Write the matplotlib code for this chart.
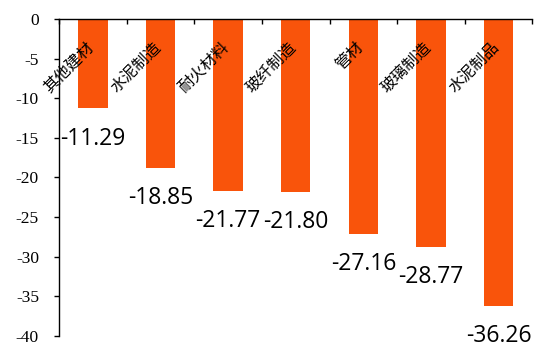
import matplotlib
matplotlib.use("Agg")
import matplotlib.pyplot as plt
import numpy as np

plt.rcParams['axes.unicode_minus'] = False

# data
categories = ['其他建材', '水泥制造', '耐火材料', '玻纤制造', '管材', '玻璃制造', '水泥制品']
values = [-11.29, -18.85, -21.77, -21.80, -27.16, -28.77, -36.26]
y_ticks = [0, -5, -10, -15, -20, -25, -30, -35, -40]

bar_color = '#F9540B'

fig = plt.figure(figsize=(5.38, 3.47), dpi=100)
ax = fig.add_axes([0.110, 0.0326, 0.8794, 0.9126])

x = np.arange(len(categories))
ax.bar(x, values, width=0.434, color=bar_color, zorder=2)

ax.set_xlim(-0.5, len(categories) - 0.5)
ax.set_ylim(-40, 0)

# x axis sits on the top spine (y = 0), ticks point into the plot
ax.spines['bottom'].set_visible(False)
ax.spines['right'].set_visible(False)
ax.spines['top'].set_linewidth(1.0)
ax.spines['left'].set_linewidth(1.0)
ax.xaxis.set_ticks_position('top')
ax.set_xticks(np.arange(len(categories) + 1) - 0.5)
ax.set_xticklabels([])
ax.tick_params(axis='x', direction='in', length=3.6, width=1.0)

ax.set_yticks(y_ticks)
ax.set_yticklabels([str(t) for t in y_ticks], fontfamily='Liberation Serif', fontsize=12.5)
ax.tick_params(axis='y', direction='out', length=3.6, width=1.0, pad=11)

# category names, rotated, hanging just under the axis
for i, name in enumerate(categories):
    ax.annotate(name, xy=(i, 0), xytext=(-1.5, -18.5), textcoords='offset points',
                rotation=45, rotation_mode='anchor', ha='right', va='center',
                fontfamily=['Noto Sans CJK SC', 'DejaVu Sans'], fontsize=11.5,
                zorder=3)

# value labels under each bar end
for i, v in enumerate(values):
    ax.annotate(f"{v:.2f}", xy=(i, v), xytext=(0, -26), textcoords='offset points',
                ha='center', va='baseline', fontfamily='Open Sans', fontsize=16.5,
                annotation_clip=False, zorder=3)

fig.savefig("out.png", dpi=100)
